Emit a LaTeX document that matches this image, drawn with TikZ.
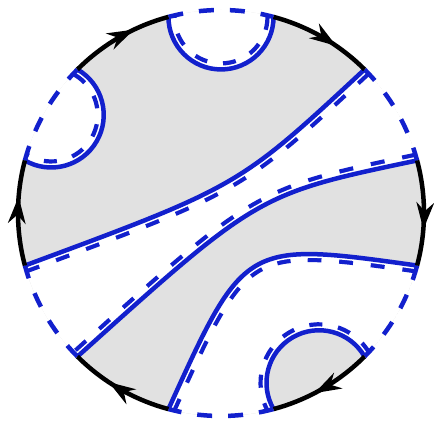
\documentclass[tikz,border=0pt]{standalone}
\usetikzlibrary{arrows.meta}
\definecolor{bl}{RGB}{18,32,205}
\definecolor{gr}{RGB}{225,225,225}
\tikzset{
  solidblue/.style={draw=bl,line width=4.5pt},
  offdash/.style={draw=bl,line width=16pt,dash pattern=on 14pt off 18pt},
  offwhite/.style={draw=white,line width=7.5pt},
  thindash/.style={draw=bl,line width=4.2pt,dash pattern=on 13pt off 16pt},
  rimdash/.style={draw=bl,line width=4.5pt,dash pattern=on 15pt off 16pt},
  rimarc/.style={draw=black,line width=4.5pt},
  ahead/.style={fill=black},
}
\def\R{203}
\newcommand\rimtip[1]{\fill[ahead,shift={(#1:\R)},rotate=#1-90] (2,0) -- (-25,9) -- (-16,0) -- (-25,-9) -- cycle;}
\def\curveA{(143.54,143.54) .. controls (17.8,26.6) and (17.8,26.6) .. (-196.08,-52.54)}
\def\curveB{(196.08,52.54) .. controls (37.3,19.2) and (37.3,19.2) .. (-143.54,-143.54)}
\def\curveC{(196.08,-52.54) .. controls (23.6,-28.4) and (23.6,-28.4) .. (-52.54,-196.08)}
\begin{document}
\begin{tikzpicture}[x=1pt,y=1pt]
\useasboundingbox (-221,-214) rectangle (213,213);
\coordinate (O) at (0,0);
\coordinate (hT) at (90:196.08);
\coordinate (hL) at (150:196.08);
\coordinate (hB) at (-60:196.08);
% fills
\begin{scope}
  \clip (O) circle[radius=\R];
  \fill[gr] (O) circle[radius=\R];
  \fill[white] \curveA arc[start angle=195,end angle=405,radius=\R] -- cycle;
  \fill[gr] \curveB arc[start angle=225,end angle=375,radius=\R] -- cycle;
  \fill[white] \curveC arc[start angle=-105,end angle=-15,radius=\R] -- cycle;
  \fill[gr] (hB) circle[radius=52.54];
  \fill[white] (hT) circle[radius=52.54];
  \fill[white] (hL) circle[radius=52.54];
\end{scope}
% offset dashes
\begin{scope}
  \clip \curveA arc[start angle=195,end angle=405,radius=\R] -- cycle;
  \draw[offdash] \curveA;
  \draw[offwhite] \curveA;
\end{scope}
\begin{scope}
  \clip \curveB arc[start angle=225,end angle=15,radius=\R] -- cycle;
  \draw[offdash] \curveB;
  \draw[offwhite] \curveB;
\end{scope}
\begin{scope}
  \clip \curveC arc[start angle=-105,end angle=-15,radius=\R] -- cycle;
  \draw[offdash] \curveC;
  \draw[offwhite] \curveC;
\end{scope}
\begin{scope}
  \clip (O) circle[radius=\R];
  \draw[thindash] (hT) ++(0:46.5) arc[start angle=0,end angle=-180,radius=46.5];
  \draw[thindash] (hL) ++(60:46.5) arc[start angle=60,end angle=-120,radius=46.5];
  \draw[thindash] (hB) ++(30:58.5) arc[start angle=30,end angle=210,radius=58.5];
\end{scope}
% solid blue boundaries
\draw[solidblue] \curveA;
\draw[solidblue] \curveB;
\draw[solidblue] \curveC;
\draw[solidblue] (hT) ++(0:52.54) arc[start angle=0,end angle=-180,radius=52.54];
\draw[solidblue] (hL) ++(60:52.54) arc[start angle=60,end angle=-120,radius=52.54];
\draw[solidblue] (hB) ++(30:52.54) arc[start angle=30,end angle=210,radius=52.54];
% rim dashed arcs
\draw[rimdash] (105:\R) arc[start angle=105,end angle=75,radius=\R];
\draw[rimdash] (45:\R) arc[start angle=45,end angle=15,radius=\R];
\draw[rimdash] (-15:\R) arc[start angle=-15,end angle=-45,radius=\R];
\draw[rimdash] (-75:\R) arc[start angle=-75,end angle=-105,radius=\R];
\draw[rimdash] (-135:\R) arc[start angle=-135,end angle=-165,radius=\R];
\draw[rimdash] (165:\R) arc[start angle=165,end angle=135,radius=\R];
% rim black arcs with arrows
\draw[rimarc] (135:\R) arc[start angle=135,end angle=105,radius=\R];
\draw[rimarc] (75:\R) arc[start angle=75,end angle=45,radius=\R];
\draw[rimarc] (15:\R) arc[start angle=15,end angle=-15,radius=\R];
\draw[rimarc] (-45:\R) arc[start angle=-45,end angle=-75,radius=\R];
\draw[rimarc] (-105:\R) arc[start angle=-105,end angle=-135,radius=\R];
\draw[rimarc] (195:\R) arc[start angle=195,end angle=165,radius=\R];
\rimtip{116}
\rimtip{56}
\rimtip{-4}
\rimtip{-62}
\rimtip{-123}
\rimtip{176}
\end{tikzpicture}
\end{document}
